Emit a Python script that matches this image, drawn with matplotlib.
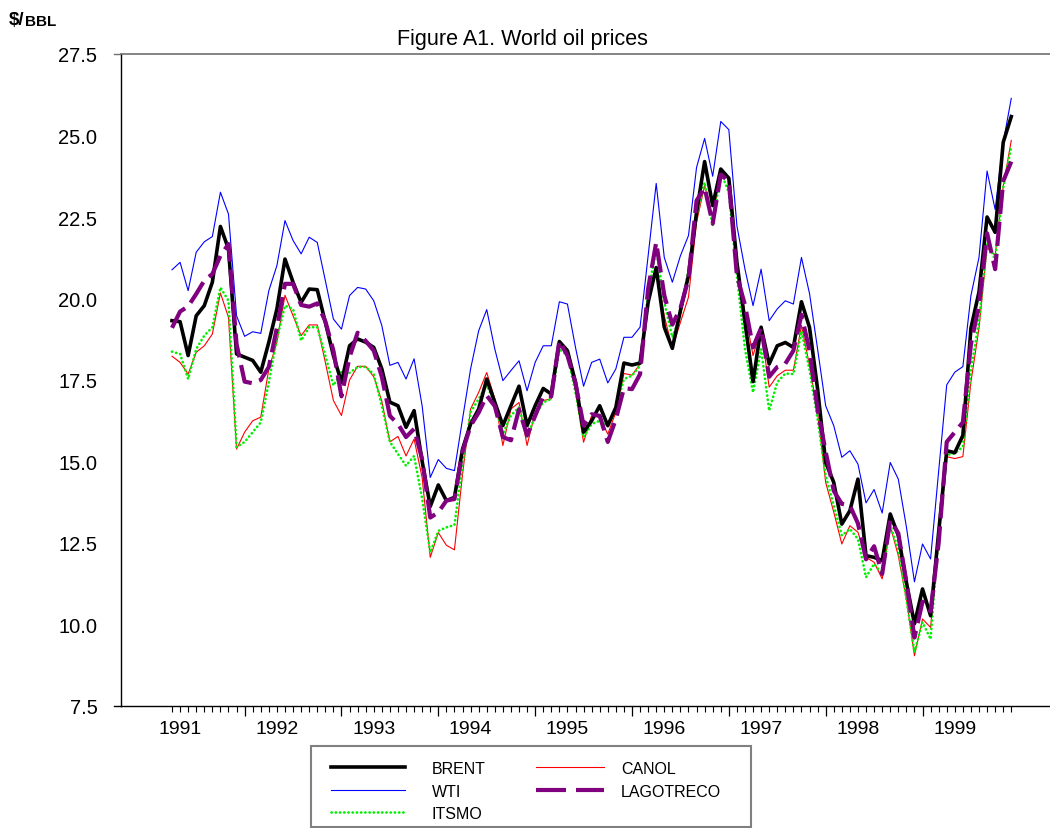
import matplotlib
matplotlib.use('Agg')
import matplotlib.pyplot as plt
from matplotlib.patches import Rectangle
from matplotlib.lines import Line2D
import numpy as np

plt.rcParams['font.family'] = ['Liberation Sans', 'DejaVu Sans']

# ---------------- data (monthly, Apr 1991 - Dec 1999) ----------------
years = ['1991', '1992', '1993', '1994', '1995', '1996', '1997', '1998', '1999']
ytick_labels = ['7.5', '10.0', '12.5', '15.0', '17.5', '20.0', '22.5', '25.0', '27.5']
ytick_values = [7.5, 10.0, 12.5, 15.0, 17.5, 20.0, 22.5, 25.0, 27.5]

brent = [19.32, 19.29, 18.25, 19.47, 19.78, 20.5, 22.21, 21.52, 18.3, 18.2,
         18.1, 17.74, 18.66, 19.68, 21.21, 20.5, 19.88, 20.29, 20.27, 19.27,
         18.25, 17.43, 18.55, 18.76, 18.66, 18.5, 17.84, 16.82, 16.71, 16.05,
         16.56, 15.0, 13.62, 14.28, 13.8, 13.9, 15.38, 16.15, 16.61, 17.53,
         16.82, 16.1, 16.71, 17.31, 16.1, 16.71, 17.24, 17.07, 18.68, 18.4,
         17.43, 15.9, 16.25, 16.71, 16.1, 16.66, 18.02, 17.96, 18.02, 19.88,
         20.95, 19.12, 18.47, 19.63, 20.7, 22.64, 24.2, 22.85, 23.97, 23.69,
         21.11, 19.27, 17.45, 19.12, 17.99, 18.55, 18.65, 18.5, 19.9, 19.11,
         17.22, 14.97, 14.36, 13.08, 13.49, 14.46, 12.11, 12.06, 11.96, 13.39,
         12.73, 11.3, 10.02, 11.09, 10.27, 12.83, 15.33, 15.27, 15.8, 19.09,
         20.2, 22.5, 22.03, 24.79, 25.58]

wti = [20.88, 21.11, 20.24, 21.42, 21.74, 21.9, 23.26, 22.59, 19.47, 18.84,
       18.98, 18.93, 20.24, 21.01, 22.39, 21.78, 21.37, 21.88, 21.72, 20.55,
       19.37, 19.06, 20.09, 20.34, 20.29, 19.93, 19.17, 17.95, 18.04, 17.53,
       18.15, 16.7, 14.51, 15.06, 14.79, 14.72, 16.3, 17.84, 19.01, 19.66,
       18.45, 17.48, 17.79, 18.09, 17.17, 18.04, 18.55, 18.55, 19.9, 19.83,
       18.5, 17.31, 18.04, 18.14, 17.41, 17.84, 18.81, 18.81, 19.12, 21.31,
       23.53, 21.26, 20.5, 21.31, 21.93, 24.02, 24.91, 23.75, 25.43, 25.18,
       22.23, 20.9, 19.78, 20.9, 19.32, 19.68, 19.93, 19.83, 21.26, 20.15,
       18.45, 16.71, 16.1, 15.13, 15.33, 14.92, 13.73, 14.14, 13.42, 14.97,
       14.46, 13.0, 11.31, 12.47, 12.01, 14.7, 17.35, 17.74, 17.91, 20.09,
       21.26, 23.91, 22.73, 24.79, 26.14]

itsmo = [18.37, 18.3, 17.53, 18.45, 18.86, 19.12, 20.34, 19.93, 15.44, 15.6,
         15.9, 16.2, 17.43, 18.76, 19.78, 19.68, 18.71, 19.12, 19.12, 18.25,
         17.33, 17.75, 17.72, 17.9, 17.9, 17.68, 16.7, 15.6, 15.23, 14.87,
         15.17, 13.85, 12.21, 12.87, 12.98, 13.05, 14.9, 16.51, 16.92, 17.33,
         16.81, 15.84, 16.41, 16.66, 15.74, 16.41, 16.81, 16.92, 18.45, 18.25,
         17.12, 15.74, 16.15, 16.25, 16.1, 16.61, 17.53, 17.63, 17.94, 20.19,
         21.52, 19.88, 18.81, 19.47, 20.9, 22.54, 23.56, 22.23, 23.87, 23.26,
         20.7, 18.45, 17.12, 18.45, 16.56, 17.43, 17.7, 17.68, 19.0, 17.8,
         16.3, 14.57, 13.65, 12.73, 12.93, 12.62, 11.45, 11.86, 11.55, 13.03,
         12.31, 10.78, 9.15, 10.07, 9.55, 12.8, 15.2, 15.25, 15.45, 17.8,
         19.3, 21.7, 21.2, 23.4, 24.67]

canol = [18.23, 18.04, 17.68, 18.35, 18.55, 18.91, 20.17, 19.42, 15.38, 15.9,
         16.25, 16.36, 17.84, 18.66, 20.1, 19.47, 18.86, 19.19, 19.19, 18.04,
         16.87, 16.41, 17.5, 17.92, 17.92, 17.6, 16.85, 15.6, 15.77, 15.17,
         15.69, 14.5, 12.06, 12.82, 12.43, 12.29, 14.6, 16.61, 17.12, 17.73,
         16.92, 15.49, 16.61, 16.81, 15.49, 16.51, 16.87, 16.92, 18.57, 18.3,
         17.17, 15.59, 16.41, 16.36, 15.84, 16.51, 17.7, 17.65, 17.99, 19.88,
         20.9, 19.47, 18.47, 19.27, 20.04, 22.34, 23.46, 22.44, 23.92, 23.67,
         21.01, 19.57, 18.25, 19.07, 17.28, 17.63, 17.8, 17.8, 19.17, 17.94,
         16.5, 14.36, 13.45, 12.47, 13.03, 12.83, 12.06, 11.91, 11.4, 13.03,
         12.11, 10.78, 9.04, 10.17, 9.91, 12.6, 15.15, 15.09, 15.15, 17.44,
         19.09, 21.56, 21.32, 23.44, 24.85]

lagotreco = [19.1, 19.6, 19.76, 20.14, 20.55, 20.75, 21.31, 21.67, 18.6, 17.45,
             17.4, 17.5, 17.9, 19.1, 20.45, 20.45, 19.8, 19.75, 19.85, 19.3,
             18.4, 17.0, 18.2, 18.95, 18.7, 18.4, 17.6, 16.4, 16.15, 15.75,
             16.0, 15.07, 13.28, 13.44, 13.8, 13.85, 15.3, 16.1, 16.5, 17.02,
             16.7, 15.75, 15.65, 16.6, 15.8, 16.4, 17.0, 17.0, 18.7, 18.25,
             17.4, 16.1, 16.45, 16.4, 15.6, 16.3, 17.25, 17.22, 17.68, 20.3,
             21.72, 20.1, 19.2, 19.7, 20.6, 23.0, 23.4, 22.3, 23.8, 23.6,
             20.7, 19.8, 18.5, 19.1, 17.6, 17.9, 18.0, 18.4, 19.5, 18.4,
             16.6, 15.3, 14.1, 13.7, 13.65, 13.1, 12.0, 12.4, 11.55, 13.2,
             12.8, 11.3, 9.6, 10.7, 10.4, 12.5, 15.6, 15.9, 16.2, 18.6,
             19.8, 22.0, 20.9, 23.6, 24.2]

# ---------------- layout ----------------
W, H = 1050, 829
fig = plt.figure(figsize=(W / 100, H / 100), dpi=100)
ax_left, ax_top, ax_bottom = 121, 55, 707
ax = fig.add_axes([ax_left / W, (H - ax_bottom) / H, (W - ax_left) / W,
                   (ax_bottom - ax_top) / H])

x = np.arange(len(brent))
px_month = 8.07
x0_px = 172

l_wti, = ax.plot(x, wti, color='#0000FF', lw=0.8, zorder=2)
l_canol, = ax.plot(x, canol, color='#FF0000', lw=0.8, zorder=3)
l_itsmo, = ax.plot(x, itsmo, color='#00F000', lw=1.9, ls=(0, (0.1, 1.5)),
                   dash_capstyle='round', zorder=4)
l_brent, = ax.plot(x, brent, color='black', lw=2.6, zorder=5)
l_lago, = ax.plot(x, lagotreco, color='#800080', lw=3.0, dashes=(5.8, 1.9),
                  zorder=6)

ax.set_xlim(-(x0_px - ax_left) / px_month, (W - x0_px) / px_month)
ax.set_ylim(7.5, 27.5)

ax.set_yticks(ytick_values)
ax.set_yticklabels(ytick_labels)
ax.tick_params(axis='y', length=0, pad=17, labelsize=14.5)

ax.set_xticks([9 + 12 * k for k in range(8)])
ax.set_xticklabels([])
ax.set_xticks(x, minor=True)
ax.tick_params(axis='x', which='major', length=7.5, width=0.9, direction='out')
ax.tick_params(axis='x', which='minor', length=4.5, width=0.8, direction='out')

sec = ax.secondary_xaxis('bottom')
sec.set_xticks([1 + 12 * k for k in range(len(years))])
sec.set_xticklabels(years)
sec.tick_params(length=0, pad=10, labelsize=14)
sec.spines['bottom'].set_visible(False)

ax.spines['right'].set_visible(False)
ax.spines['top'].set_color('#707070')
ax.spines['top'].set_linewidth(1.2)
ax.spines['left'].set_linewidth(1.0)
ax.spines['bottom'].set_linewidth(1.0)

ax_w_px = W - ax_left
for yy, col in ((1, '#707070'), (0, 'black')):
    ax.add_line(Line2D([-7 / ax_w_px, 0], [yy, yy], transform=ax.transAxes,
                       clip_on=False, color=col, lw=1.0))

# title and unit label
fig.text(522 / W, 1 - 40 / H, 'Figure A1. World oil prices', ha='center',
         va='center', fontsize=15.5)
t1 = fig.text(9 / W, 1 - 25 / H, r'\$/', fontweight='bold', fontsize=13.5,
              ha='left', va='baseline')
ax.annotate('BBL', xy=(1, 0), xycoords=t1, xytext=(0.0, 0.0),
            textcoords='offset points', fontweight='bold', fontsize=11,
            ha='left', va='bottom', annotation_clip=False)

# legend frame
fig.patches.append(Rectangle((311 / W, 1.0 / H), (751 - 311) / W, (829 - 748) / H,
                             transform=fig.transFigure, fill=False,
                             edgecolor='#808080', lw=1.5))
h_lago = Line2D([], [], color='#800080', lw=3.0, dashes=(7.2, 2.4))
leg_fs = 11.5
leg_top = 1 - 762 / H
fig.legend([l_brent, l_wti, l_itsmo], ['BRENT', 'WTI', 'ITSMO'], ncol=1,
           loc='upper left', bbox_to_anchor=(331 / W, leg_top), frameon=False,
           fontsize=leg_fs, handlelength=4.63, handletextpad=1.69,
           labelspacing=0.47, borderpad=0, borderaxespad=0)
fig.legend([l_canol, h_lago], ['CANOL', 'LAGOTRECO'], ncol=1,
           loc='upper left', bbox_to_anchor=(536 / W, leg_top), frameon=False,
           fontsize=leg_fs, handlelength=4.25, handletextpad=1.06,
           labelspacing=0.47, borderpad=0, borderaxespad=0)

fig.savefig('out.png', dpi=100)
